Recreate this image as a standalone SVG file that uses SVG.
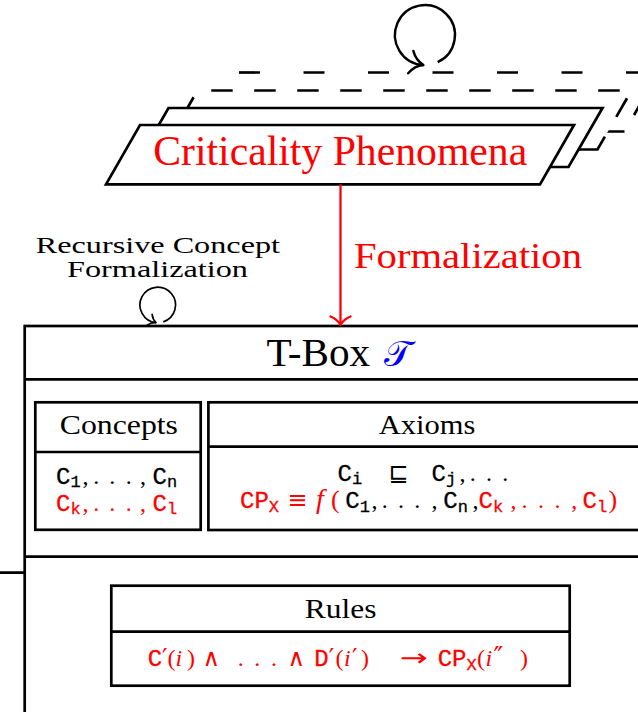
<svg xmlns="http://www.w3.org/2000/svg" width="638" height="712" viewBox="0 0 638 712">
<style>
.bg{fill:#fff;stroke:none}
.pg{fill:#fff;stroke:#000;stroke-width:2.7;stroke-linejoin:miter}
.ln{fill:none;stroke:#000;stroke-width:2.7}
.box{fill:#fff;stroke:#000;stroke-width:2.7}
.dsh{fill:none;stroke:#000;stroke-width:2.7}
.rm{font-family:"Liberation Serif","Times New Roman",serif}
.it{font-family:"Liberation Serif","Times New Roman",serif;font-style:italic}
.tt{font-family:"Liberation Mono","Courier New",monospace;font-size:24px;stroke-width:0.3}
.sub{font-size:17px}
.sym{font-family:"DejaVu Sans",sans-serif}
.red{fill:#ff0000}
.redS{stroke:#ff0000}
.blkS{stroke:#000}
.head{fill:none;stroke-linecap:round;stroke-linejoin:round}
</style>

<g id="phenomena">
  <!-- fourth (back) layer -->
  <polygon class="bg" points="225.5,72.5 658.5,72.5 624.5,131.5 191.5,131.5"/>
  <path class="dsh" d="M225.5,72.5 H662" stroke-dasharray="21 43.5" stroke-dashoffset="51"/>
  <path class="dsh" d="M658.5,72.5 L624.5,131.5 H191.5" stroke-dasharray="0 28 21 19.1 22 700"/>
  <!-- third layer -->
  <polygon class="bg" points="197.5,90.5 631.5,90.5 597.5,149.5 163.5,149.5"/>
  <path class="dsh" d="M163.5,149.5 L197.5,90.5 H631.5" stroke-dasharray="21.5 21.5" stroke-dashoffset="4.2"/>
  <path class="dsh" d="M631.5,90.5 L597.5,149.5 H163.5" stroke-dasharray="0 9 21.5 22.8 35 700"/>
  <!-- second layer -->
  <polygon class="pg" points="168.5,108 602.5,108 568.5,167 134.5,167"/>
  <!-- front layer -->
  <polygon class="pg" points="140,125 574,125 540,184.3 106,184.3"/>
  <text class="rm red" x="153.2" y="165" font-size="41.5" textLength="374" lengthAdjust="spacingAndGlyphs">Criticality Phenomena</text>
</g>

<g id="tbox">
  <rect class="box" x="24.7" y="326" width="650" height="420"/>
  <path class="ln" d="M24.7,379.3 H665 M24.7,556.7 H665 M0,572.7 H24.7"/>
  <text class="rm" x="266.5" y="366" font-size="40" textLength="103.7" lengthAdjust="spacingAndGlyphs">T-Box</text>
  <text class="sym" x="384" y="366" font-size="36" fill="#0000ff">𝒯</text>
</g>

<g id="concepts">
  <rect class="box" x="35.3" y="402.3" width="165.4" height="127.5"/>
  <path class="ln" d="M35.3,452 H200.7"/>
  <text class="rm" x="59.7" y="434" font-size="28" textLength="118.3" lengthAdjust="spacingAndGlyphs">Concepts</text>
  <text class="tt" y="484" stroke="#000"><tspan x="56" y="484">C</tspan><tspan class="sub" x="70.4" y="487">1</tspan><tspan class="rm" x="82.5" y="484" stroke="none">,</tspan><tspan class="rm" x="93.3" y="484" stroke="none">.</tspan><tspan class="rm" x="109.3" y="484" stroke="none">.</tspan><tspan class="rm" x="125.7" y="484" stroke="none">.</tspan><tspan class="rm" x="140" y="484" stroke="none">,</tspan><tspan x="152.5" y="484">C</tspan><tspan class="sub" x="167" y="487">n</tspan></text>
  <text class="tt red" y="511.3" stroke="#ff0000"><tspan x="56" y="511.3">C</tspan><tspan class="sub" x="70.4" y="514.3">k</tspan><tspan class="rm" x="82.5" y="511.3" stroke="none">,</tspan><tspan class="rm" x="93.3" y="511.3" stroke="none">.</tspan><tspan class="rm" x="109.3" y="511.3" stroke="none">.</tspan><tspan class="rm" x="125.7" y="511.3" stroke="none">.</tspan><tspan class="rm" x="140" y="511.3" stroke="none">,</tspan><tspan x="152.5" y="511.3">C</tspan><tspan class="sub" x="167" y="514.3">l</tspan></text>
</g>

<g id="axioms">
  <rect class="box" x="208.4" y="402.3" width="460" height="127.7"/>
  <path class="ln" d="M208.4,446.7 H665"/>
  <text class="rm" x="378.7" y="434.3" font-size="28" textLength="96.6" lengthAdjust="spacingAndGlyphs">Axioms</text>
  <text class="tt" y="481" stroke="#000"><tspan x="337.5" y="481">C</tspan><tspan class="sub" x="352" y="484">i</tspan><tspan class="sym" x="398.3" y="481" text-anchor="middle" stroke="none">⊑</tspan><tspan x="431.6" y="481">C</tspan><tspan class="sub" x="446" y="484">j</tspan><tspan class="rm" x="459.5" y="481" stroke="none">,</tspan><tspan class="rm" x="469.8" y="481" stroke="none">.</tspan><tspan class="rm" x="486" y="481" stroke="none">.</tspan><tspan class="rm" x="502.2" y="481" stroke="none">.</tspan></text>
  <text class="tt" y="508.3"><tspan class="red" x="240" y="508.3" stroke="#ff0000">CP</tspan><tspan class="sub red" x="268.8" y="511.5" stroke="#ff0000">X</tspan><tspan class="sym red" x="297.4" y="508.3" text-anchor="middle">≡</tspan><tspan class="it red" x="316" y="508.3" font-size="28">f</tspan><tspan class="rm red" x="331" y="508.3" font-size="26">(</tspan><tspan x="345.3" y="508.3" stroke="#000">C</tspan><tspan class="sub" x="359.7" y="511.5" stroke="#000">1</tspan><tspan class="rm" x="371.5" y="508.3">,</tspan><tspan class="rm" x="381.8" y="508.3">.</tspan><tspan class="rm" x="398" y="508.3">.</tspan><tspan class="rm" x="414.2" y="508.3">.</tspan><tspan class="rm" x="431.5" y="508.3">,</tspan><tspan x="443.3" y="508.3" stroke="#000">C</tspan><tspan class="sub" x="457.7" y="511.5" stroke="#000">n</tspan><tspan class="rm" x="472.5" y="508.3">,</tspan><tspan class="red" x="478.6" y="508.3" stroke="#ff0000">C</tspan><tspan class="sub red" x="493" y="511.5" stroke="#ff0000">k</tspan><tspan class="rm red" x="510.5" y="508.3">,</tspan><tspan class="rm red" x="521.5" y="508.3">.</tspan><tspan class="rm red" x="538" y="508.3">.</tspan><tspan class="rm red" x="554.5" y="508.3">.</tspan><tspan class="rm red" x="571.2" y="508.3">,</tspan><tspan class="red" x="582.5" y="508.3" stroke="#ff0000">C</tspan><tspan class="sub red" x="597" y="511.5" stroke="#ff0000">l</tspan><tspan class="rm red" x="608.5" y="508.3" font-size="26">)</tspan></text>
</g>

<g id="rules">
  <rect class="box" x="111.3" y="585.7" width="458.4" height="100"/>
  <path class="ln" d="M111.3,631.7 H569.7"/>
  <text class="rm" x="304.7" y="618" font-size="28" textLength="71.7" lengthAdjust="spacingAndGlyphs">Rules</text>
  <text class="tt red" y="666.3"><tspan x="147.7" y="666.3" stroke="#ff0000">C</tspan><tspan class="sym" x="162" y="666.3" font-size="24">′</tspan><tspan class="rm" x="167.5" y="666.3">(</tspan><tspan class="it" x="175.5" y="666.3">i</tspan><tspan class="rm" x="187" y="666.3">)</tspan><tspan class="sym" x="211.4" y="666.3" text-anchor="middle">∧</tspan><tspan class="rm" x="237.7" y="666.3">.</tspan><tspan class="rm" x="254.3" y="666.3">.</tspan><tspan class="rm" x="271" y="666.3">.</tspan><tspan class="sym" x="296.4" y="666.3" text-anchor="middle">∧</tspan><tspan x="314.3" y="666.3" stroke="#ff0000">D</tspan><tspan class="sym" x="328.7" y="666.3" font-size="24">′</tspan><tspan class="rm" x="335.5" y="666.3">(</tspan><tspan class="it" x="344" y="666.3">i</tspan><tspan class="sym" x="352" y="666.3" font-size="24">′</tspan><tspan class="rm" x="361" y="666.3">)</tspan><tspan class="sym" x="399.7" y="666.3" textLength="28" lengthAdjust="spacingAndGlyphs">→</tspan><tspan x="437.7" y="666.3" stroke="#ff0000">CP</tspan><tspan class="sub" x="466.5" y="669.5" stroke="#ff0000">X</tspan><tspan class="rm" x="477" y="666.3">(</tspan><tspan class="it" x="485.5" y="666.3">i</tspan><tspan class="sym" x="493.5" y="666.3" font-size="26">″</tspan><tspan class="rm" x="520" y="666.3">)</tspan></text>
</g>

<g id="connectors">
  <!-- loop over the phenomena stack -->
  <path fill="none" stroke="#000" stroke-width="2.4" d="M437.7,62.2 A30,30 0 1 0 423.4,65"/>
  <path class="head blkS" stroke-width="2.4" d="M-13,-11.5 C-9,-4 -3,-1 0,0 C-3,1 -9,4 -13,11.5" transform="translate(423.4,65) rotate(13)"/>
  <!-- formalization arrow -->
  <line x1="340.5" y1="184.3" x2="340.5" y2="324.5" stroke="#ff0000" stroke-width="2.3"/>
  <path class="head redS" stroke-width="2.3" d="M-8.5,-10 C-6,-4 -2,-1 0,0 C-2,1 -6,4 -8.5,10" transform="translate(340.5,325) rotate(90)"/>
  <text class="rm red" x="354" y="268.3" font-size="36" textLength="228" lengthAdjust="spacingAndGlyphs">Formalization</text>
  <!-- recursive concept formalization loop -->
  <path fill="none" stroke="#000" stroke-width="1.7" d="M163.3,321.9 A17.8,17.8 0 1 0 156,322.7"/>
  <path class="head blkS" stroke-width="1.7" d="M-7,-5.9 C-5,-2.5 -2,-0.7 0,0 C-2,0.7 -5,2.5 -7,5.9" transform="translate(156,322.7) rotate(25)"/>
  <text class="rm" x="35.8" y="253.3" font-size="23" textLength="244.2" lengthAdjust="spacingAndGlyphs">Recursive Concept</text>
  <text class="rm" x="67" y="277.3" font-size="23" textLength="181" lengthAdjust="spacingAndGlyphs">Formalization</text>
</g>
</svg>
